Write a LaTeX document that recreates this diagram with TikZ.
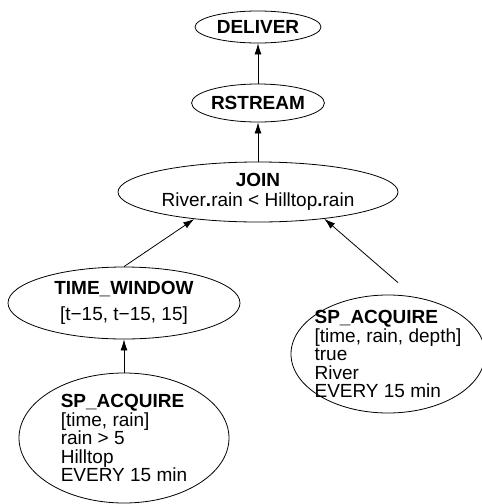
\documentclass[tikz,border=0pt]{standalone}
\usepackage{fontspec}
\setmainfont{Liberation Sans}
\usetikzlibrary{shapes.geometric,arrows.meta}

\begin{document}
\begin{tikzpicture}[
    x=1pt, y=-1pt,
    op/.style={draw, ellipse, inner xsep=0pt, inner ysep=-4pt, align=center, line width=0.8pt, font=\fontsize{19}{20}\selectfont},
    source/.style={draw, ellipse, inner xsep=-20pt, inner ysep=-12pt, align=left, line width=0.8pt, font=\fontsize{19}{18.5}\selectfont},
    arrow/.style={-{Latex[length=11pt, width=7pt]}, line width=0.8pt}
]
    \useasboundingbox (0,0) rectangle (482,504);

    % Operators
    \node [op, minimum width=126pt, minimum height=32pt] (deliver) at (258,27) {\textbf{DELIVER}};
    \node [op, minimum width=122pt, minimum height=38pt] (rstream) at (258,103) {\textbf{RSTREAM}};
    \node [op, minimum width=280pt, minimum height=60pt] (join) at (258,192) {\textbf{JOIN}\\River{\bfseries.}rain < Hilltop{\bfseries.}rain};
    \node [op, minimum width=232pt, minimum height=72pt] (timewin) at (124,303) {\textbf{TIME\_WINDOW}\\[6pt][t−15, t−15, 15]};

    % Acquisition
    \node [source, minimum width=210pt, minimum height=130pt] (acq_hill) at (124,438) {\textbf{SP\_ACQUIRE}\\{}[time, rain]\\rain > 5\\Hilltop\\EVERY 15 min};
    \node [source, minimum width=194pt, minimum height=118pt] (acq_river) at (388,354) {\textbf{SP\_ACQUIRE}\\{}[time, rain, depth]\\true\\River\\EVERY 15 min};

    % Connections
    \draw [arrow] (acq_hill) -- (timewin);
    \draw [arrow] (timewin.north) -- (join.203);
    \draw [arrow] ([shift={(10pt,12pt)}]acq_river.north) -- (join.338);
    \draw [arrow] (join) -- (rstream);
    \draw [arrow] (rstream) -- (deliver);

\end{tikzpicture}
\end{document}
